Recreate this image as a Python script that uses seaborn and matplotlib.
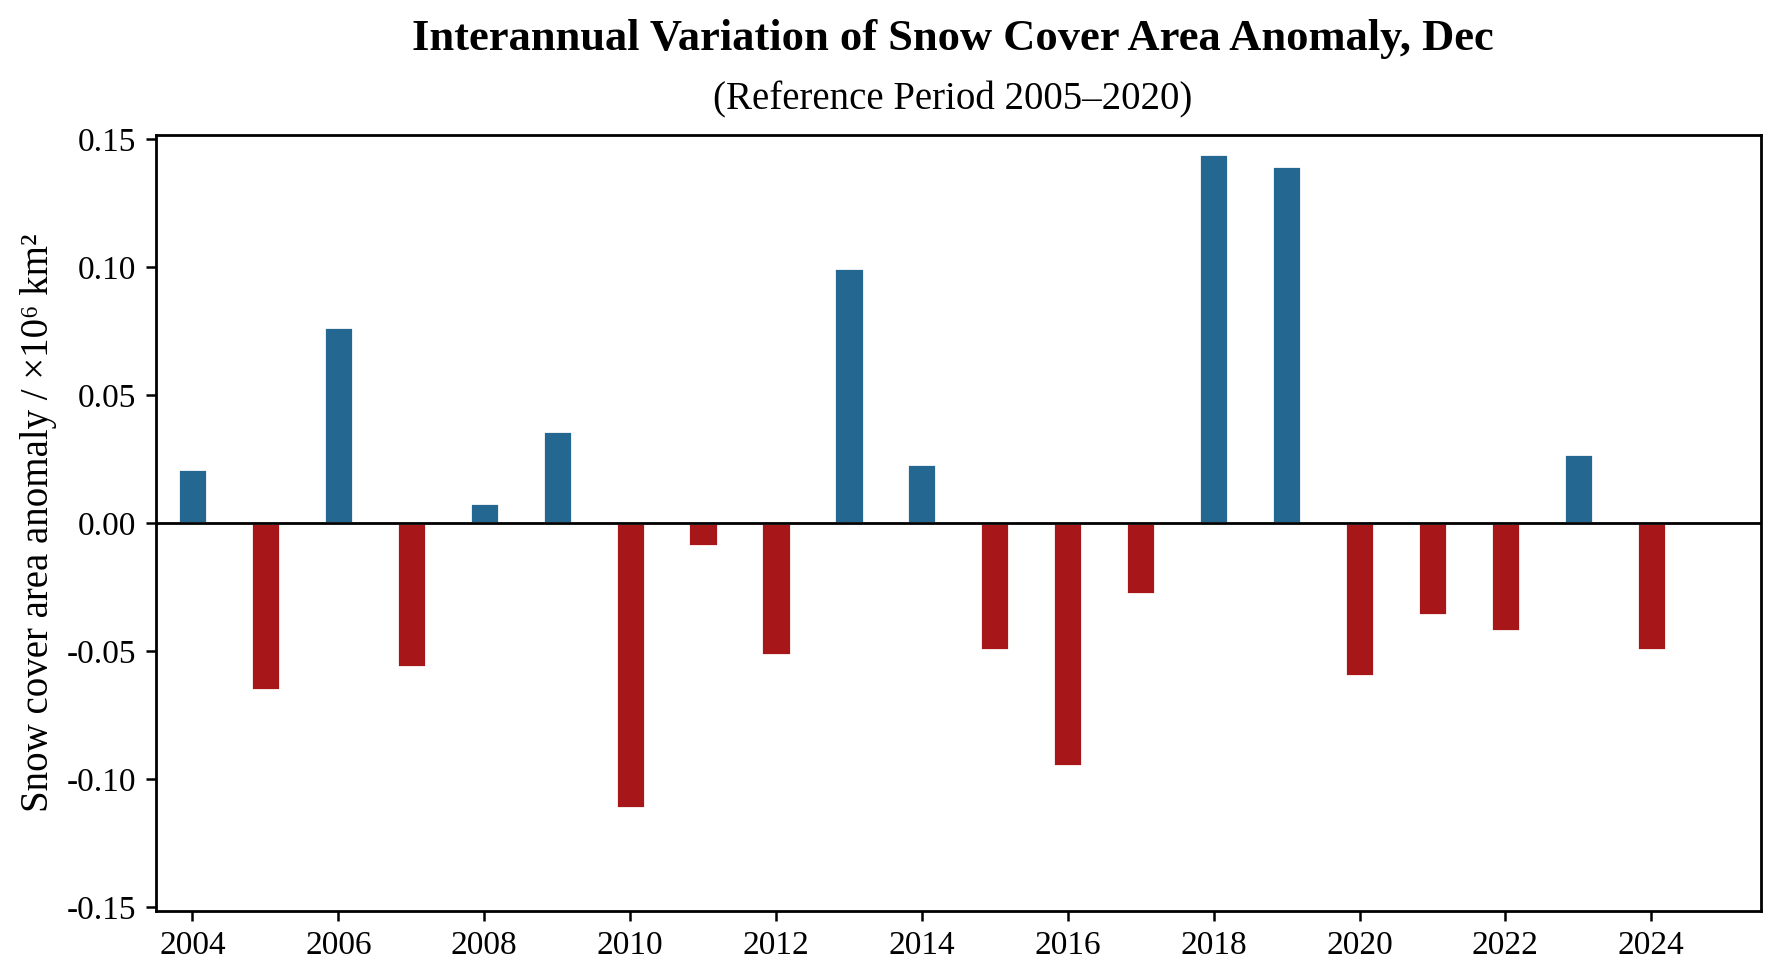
import numpy as np
import pandas as pd
import matplotlib
matplotlib.use("Agg")
import matplotlib.pyplot as plt
import seaborn as sns

years = [2004, 2005, 2006, 2007, 2008, 2009, 2010, 2011, 2012, 2013, 2014,
         2015, 2016, 2017, 2018, 2019, 2020, 2021, 2022, 2023, 2024]
anomaly = [0.0210, -0.0652, 0.0767, -0.0560, 0.0078, 0.0358, -0.1113,
           -0.0089, -0.0513, 0.0997, 0.0230, -0.0494, -0.0950, -0.0278,
           0.1442, 0.1395, -0.0598, -0.0360, -0.0423, 0.0268, -0.0497]
xticks = [2004, 2006, 2008, 2010, 2012, 2014, 2016, 2018, 2020, 2022, 2024]
yticks = [-0.15, -0.10, -0.05, 0.00, 0.05, 0.10, 0.15]
title = "Interannual Variation of Snow Cover Area Anomaly, Dec"
subtitle = "(Reference Period 2005\u20132020)"
ylabel = "Snow cover area anomaly / \u00d710\u2076 km\u00b2"

sns.set_theme(style="ticks")
plt.rcParams["font.family"] = ["Liberation Serif", "DejaVu Serif"]
plt.rcParams["axes.unicode_minus"] = False
plt.rcParams["text.color"] = "black"
plt.rcParams["axes.labelcolor"] = "black"
plt.rcParams["xtick.color"] = "black"
plt.rcParams["ytick.color"] = "black"

df = pd.DataFrame({"year": years, "anomaly": anomaly})
df["sign"] = np.where(df["anomaly"] >= 0, "pos", "neg")

fig = plt.figure(figsize=(8.895, 4.9), dpi=200)
ax = fig.add_axes([0.0877, 0.0704, 0.9897 - 0.0877, 0.862 - 0.0704])

sns.barplot(data=df, x="year", y="anomaly", hue="sign",
            palette={"pos": "#246891", "neg": "#A71618"},
            native_scale=True, width=0.4, dodge=False, legend=False,
            saturation=1, ax=ax)

ax.axhline(0, color="black", lw=1.0, zorder=3)
lim = max(abs(v) for v in anomaly) * 1.05
ax.set_ylim(-lim, lim)
ax.set_xlim(2003.5, 2025.5)
ax.set_xticks(xticks)
ax.set_xticklabels([str(t) for t in xticks])
ax.set_yticks(yticks)
ax.set_yticklabels([f"{t:.2f}" for t in yticks])
ax.tick_params(axis="both", labelsize=12, direction="out", length=3.5,
               width=0.9, colors="black")
for s in ax.spines.values():
    s.set_visible(True)
    s.set_color("black")
    s.set_linewidth(1.0)
ax.set_xlabel("")
ax.set_ylabel(ylabel, fontsize=14, color="black")
ax.yaxis.set_label_coords(-0.062, 0.5)

fig.text(0.5355, 0.960, title, ha="center", va="center", fontsize=16,
         fontweight="bold", color="black")
fig.text(0.5355, 0.898, subtitle, ha="center", va="center", fontsize=14,
         color="black")

fig.savefig("out.png", dpi=200)
